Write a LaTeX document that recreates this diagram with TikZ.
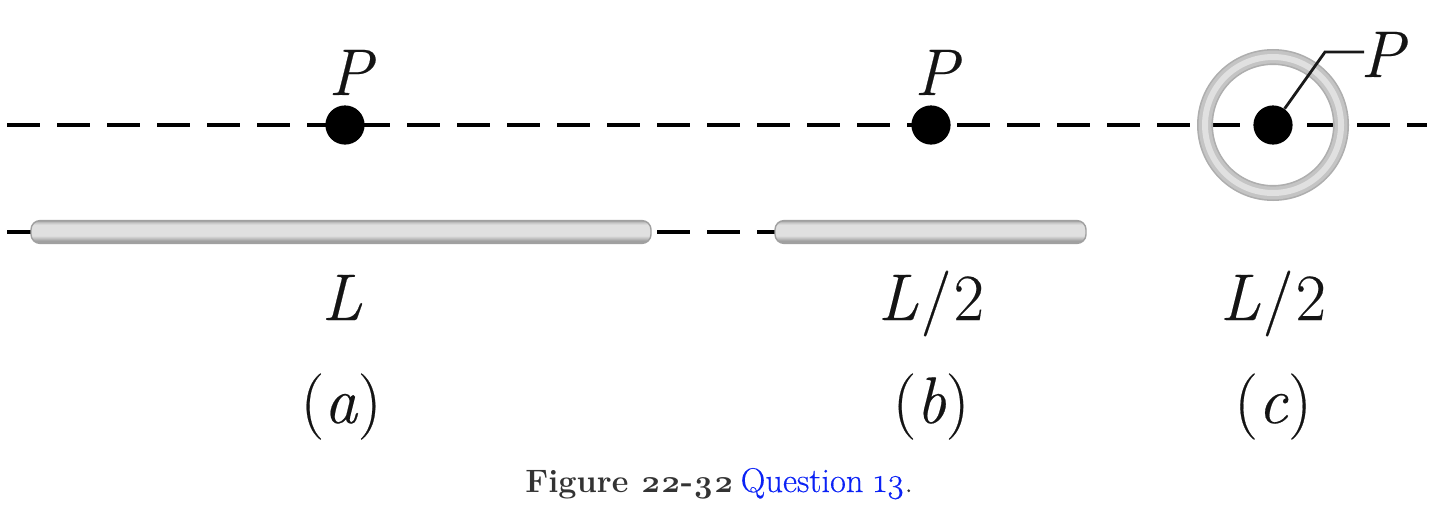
\documentclass[tikz,border=0pt]{standalone}
\usepackage{fontspec}
\setmainfont{Latin Modern Roman}[FakeBold=0.3]
\newfontfamily\capfont{Latin Modern Roman}[Numbers=OldStyle]
\newfontfamily\capreg{Latin Modern Roman}[Numbers=OldStyle,FakeBold=0.35]
\definecolor{capgray}{HTML}{333333}
\definecolor{capblue}{HTML}{0B22F5}
\definecolor{rodedge}{HTML}{A0A0A0}
\definecolor{rodmid}{HTML}{C4C4C4}
\definecolor{rodlight}{HTML}{E0E0E0}
\pgfdeclareverticalshading{rodshade}{100bp}{
  color(0bp)=(rodedge); color(25bp)=(rodedge); color(31bp)=(rodedge); color(37bp)=(rodmid); color(42bp)=(rodlight);
  color(66bp)=(rodlight); color(71bp)=(rodmid); color(75bp)=(rodedge); color(100bp)=(rodedge)}
\tikzset{
  x=0.5pt,y=-0.5pt,
  axisline/.style={line width=2.2pt,black,dash pattern=on 16.5pt off 8.5pt},
  roddy/.style={draw=rodedge,line width=0.7pt,rounded corners=4.5pt,minimum height=11.4pt,inner sep=0pt,shading=rodshade},
  pointdot/.style={circle,fill=black,minimum size=19.6pt,inner sep=0pt},
  lab/.style={font=\fontsize{33}{33}\selectfont,text=black!92,inner sep=0pt,anchor=base},
  ringouter/.style={circle,draw=rodedge!85,line width=8pt,minimum size=68pt,inner sep=0pt},
  ringmid/.style={circle,draw=rodmid,line width=6.4pt,minimum size=68pt,inner sep=0pt},
  ringinner/.style={circle,draw=rodlight,line width=3pt,minimum size=68pt,inner sep=0pt},
  leader/.style={line width=1.4pt,black!90,line join=miter},
}
\begin{document}
\begin{tikzpicture}
\useasboundingbox (0,0) rectangle (1438,514);
% axis lines
\coordinate (topL) at (7,125);
\coordinate (topR) at (1427,125);
\coordinate (midL) at (7,232);
\coordinate (midR) at (775,232);
\draw[axisline] (topL) -- (topR);
\draw[axisline] (midL) -- (midR);
% rods
\node[roddy,minimum width=310pt] (roda) at (341,232) {};
\node[roddy,minimum width=155.5pt] (rodb) at (930.5,232) {};
% ring
\node[ringouter] (ringA) at (1273,125) {};
\node[ringmid] (ringB) at (1273,125) {};
\node[ringinner] (ringC) at (1273,125) {};
% dots
\node[pointdot] (pa) at (345,125) {};
\node[pointdot] (pb) at (931,125) {};
\node[pointdot] (pc) at (1273,125) {};
% P labels
\node[lab] (la) at (352,95) {\textit{P}};
\node[lab] (lb) at (938,95) {\textit{P}};
\node[lab] (lc) at (1384,77) {\textit{P}};
% leader
\coordinate (bend) at (1325,52);
\coordinate (lend) at (1364,52);
\draw[leader] (pc) -- (bend) -- (lend);
% length labels
\node[lab] (La) at (342,320) {\textit{L}};
\node[lab] (Lb) at (931,320) {\textit{L}\hspace{1.2pt}/\hspace{1.2pt}2};
\node[lab] (Lc) at (1273,320) {\textit{L}\hspace{1.2pt}/\hspace{1.2pt}2};
% parts
\node[lab] (ca) at (341,423) {(\textit{a})};
\node[lab] (cb) at (931,423) {(\textit{b})};
\node[lab] (cc) at (1273,423) {(\textit{c})};
% caption
\node[inner sep=0pt,anchor=base west,font=\fontsize{16.2}{16.2}\selectfont] (cap) at (525,492)
  {\textcolor{capgray}{\capfont\bfseries Figure 22-32}\hspace{3.5pt}\textcolor{capblue}{\capreg\fontsize{17.2}{17.2}\selectfont Question 13}\textcolor{capgray}{\capreg .}};
\end{tikzpicture}
\end{document}
